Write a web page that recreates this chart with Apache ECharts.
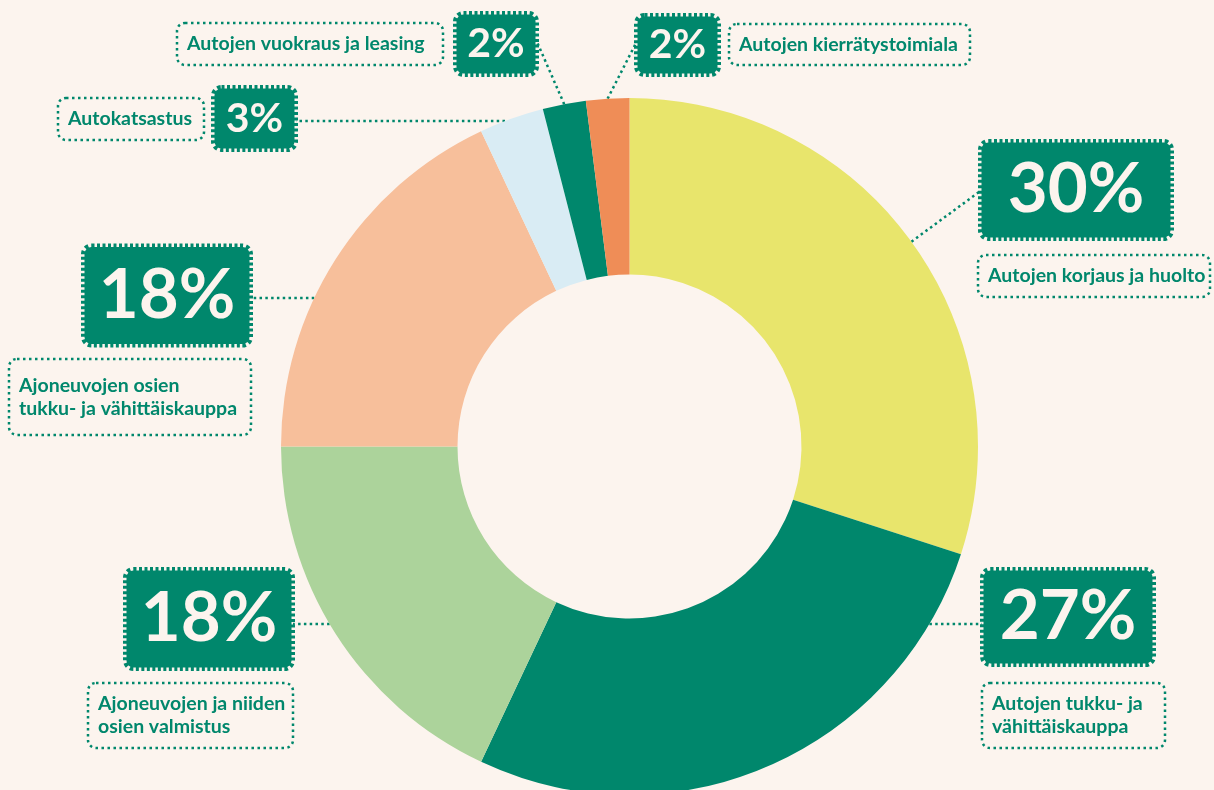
<!DOCTYPE html>
<html>
<head>
<meta charset="utf-8">
<script src="https://cdn.jsdelivr.net/npm/echarts@6/dist/echarts.min.js"></script>
<style>
html,body{margin:0;padding:0;background:#fcf4ee;}
#chart{width:1214px;height:790px;}
</style>
</head>
<body>
<div id="chart"></div>
<script>
// ---- data ----
const categories = [
  'Autojen korjaus ja huolto',
  'Autojen tukku- ja\nvähittäiskauppa',
  'Ajoneuvojen ja niiden\nosien valmistus',
  'Ajoneuvojen osien\ntukku- ja vähittäiskauppa',
  'Autokatsastus',
  'Autojen vuokraus ja leasing',
  'Autojen kierrätystoimiala'
];
const shares = [30, 27, 18, 18, 3, 2, 2];
const sliceColors = ['#e8e56c', '#00876c', '#acd39b', '#f7bf9b', '#d9ecf4', '#00876c', '#ef8d57'];

// ---- layout (positions / sizes of label boxes) ----
const CX = 629.5, CY = 446.5, R_OUT = 348.5, R_IN = 172;
// [centerX, centerY, width, height, fontSize]
const pctBoxes = [
  [1076, 190, 189, 95, 69],
  [1068, 617, 169, 93, 69],
  [209, 619, 165, 97, 69],
  [167, 295.5, 165, 97, 69],
  [254.5, 118.5, 80, 60, 41],
  [496, 44, 79, 59, 41],
  [677.5, 45, 80, 57, 41]
];
// leader: ['mid', endX, endY] from slice mid-angle edge; ['h', boxEdgeX, y] horizontal to slice edge
const leaders = [
  ['mid', 979, 192],
  ['h', 982, 624],
  ['h', 293, 624],
  ['h', 251, 298],
  ['h', 296, 121],
  ['mid', 537, 42],
  ['mid', 636, 43]
];
// [left, top, width, height]
const nameBoxes = [
  [978, 255, 232, 42],
  [982, 683, 183, 65],
  [88, 683, 205, 65],
  [9, 359, 242, 76],
  [58, 98, 146, 42],
  [177, 23, 266, 42],
  [729, 24, 241, 41]
];

const GREEN = '#00876c';
const BG = '#fcf4ee';
const total = shares.reduce((a, b) => a + b, 0);
function midAngle(i) {
  let cum = 0;
  for (let k = 0; k < i; k++) cum += shares[k];
  return 2 * Math.PI * (cum + shares[i] / 2) / total;
}

const chart = echarts.init(document.getElementById('chart'), null, {renderer: 'canvas'});

const pctData = categories.map((name, i) => ({
  name: name,
  value: shares[i],
  itemStyle: {color: sliceColors[i]},
  label: {
    fontSize: pctBoxes[i][4],
    width: pctBoxes[i][2],
    height: pctBoxes[i][3],
    lineHeight: pctBoxes[i][3]
  }
}));

const nameData = categories.map((name, i) => {
  const lines = name.split('\n').length;
  const v = (nameBoxes[i][3] - lines * 23) / 2;
  return {
    name: name,
    value: shares[i],
    label: {
      width: nameBoxes[i][2] - 10,
      padding: [v, 0, v, 10]
    }
  };
});

chart.setOption({
  backgroundColor: BG,
  animation: false,
  series: [
    {
      type: 'pie',
      center: [CX, CY],
      radius: [R_IN, R_OUT],
      startAngle: 90,
      clockwise: true,
      avoidLabelOverlap: false,
      silent: true,
      data: pctData,
      label: {
        show: true,
        position: 'outside',
        alignTo: 'none',
        overflow: 'none',
        formatter: '{c}%',
        color: BG,
        fontFamily: 'Lato',
        fontWeight: 'bold',
        align: 'center',
        backgroundColor: GREEN,
        borderColor: GREEN,
        borderWidth: 3.5,
        borderType: [3, 2.5],
        borderRadius: 7,
        padding: 0
      },
      labelLine: {
        show: true,
        smooth: false,
        lineStyle: {color: GREEN, width: 2.5, type: [2.5, 3.3]}
      },
      labelLayout: function (p) {
        const i = p.dataIndex;
        const b = pctBoxes[i];
        const L = leaders[i];
        let p0, p1;
        if (L[0] === 'mid') {
          const a = midAngle(i);
          p0 = [CX + R_OUT * Math.sin(a), CY - R_OUT * Math.cos(a)];
          p1 = [L[1], L[2]];
        } else {
          const dy = L[2] - CY;
          const dx = Math.sqrt(R_OUT * R_OUT - dy * dy);
          const ex = L[1] > CX ? CX + dx : CX - dx;
          p0 = [ex, L[2]];
          p1 = [L[1], L[2]];
        }
        const pm = [(p0[0] + p1[0]) / 2, (p0[1] + p1[1]) / 2];
        return {
          x: b[0], y: b[1], align: 'center', verticalAlign: 'middle',
          hideOverlap: false,
          labelLinePoints: [p0, pm, p1]
        };
      }
    },
    {
      type: 'pie',
      center: [CX, CY],
      radius: [R_IN, R_OUT],
      startAngle: 90,
      clockwise: true,
      avoidLabelOverlap: false,
      silent: true,
      z: 3,
      itemStyle: {color: 'rgba(0,0,0,0)'},
      data: nameData,
      label: {
        show: true,
        position: 'outside',
        alignTo: 'none',
        overflow: 'none',
        formatter: '{b}',
        color: GREEN,
        fontFamily: 'Lato',
        fontWeight: 'bold',
        fontSize: 19.5,
        lineHeight: 23,
        align: 'left',
        borderColor: GREEN,
        borderWidth: 2.5,
        borderType: [2.5, 3.5],
        borderRadius: 8
      },
      labelLine: {show: false},
      labelLayout: function (p) {
        const b = nameBoxes[p.dataIndex];
        return {x: b[0], y: b[1], align: 'left', verticalAlign: 'top', hideOverlap: false};
      }
    }
  ]
});
</script>
</body>
</html>
